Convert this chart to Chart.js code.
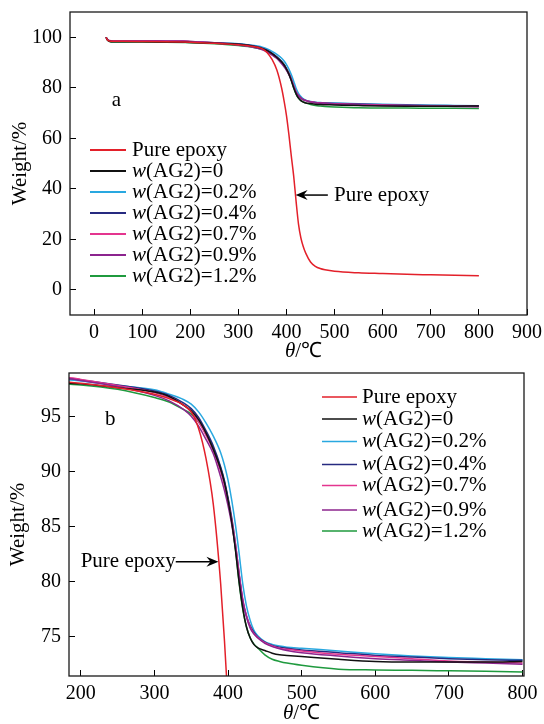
<!DOCTYPE html>
<html><head><meta charset="utf-8">
<style>
html,body{margin:0;padding:0;background:#fff;}
.box{position:absolute;left:0;width:544px;height:362px;}
#wa{top:0;} #wb{top:362px;}
</style>
<script src="https://cdn.jsdelivr.net/npm/chart.js@4.4.1/dist/chart.umd.min.js"></script>
</head><body>
<div class="box" id="wa"><canvas id="ca" width="544" height="362"></canvas></div>
<div class="box" id="wb"><canvas id="cb" width="544" height="362"></canvas></div>
<script>
// ---- data (temperature in °C, weight in %) ----
const temps = [25,28,32,40,60,100,150,185,200,250,300,320,340,350,360,370,380,390,395,400,405,410,415,420,425,430,435,440,450,460,470,480,500,550,600,650,700,750,800];
const pureEpoxy = [100.0,98.9,98.5,98.4,98.4,98.35,98.25,98.1,98.0,97.6,97.0,96.6,96.0,95.4,93.9,91.2,87.0,79.8,74.8,69.0,61.5,53.0,45.0,35.0,26.0,20.5,17.0,14.5,11.0,9.3,8.4,7.9,7.3,6.7,6.4,6.1,5.9,5.7,5.5];
const ag0  = [100.0,98.9,98.4,98.2,98.2,98.2,98.1,98.0,97.95,97.6,97.2,96.8,96.0,95.5,94.7,93.5,92.0,90.2,89.0,87.4,85.4,82.9,80.0,77.6,75.9,74.9,74.3,74.0,73.75,73.5,73.35,73.3,73.2,72.95,72.75,72.7,72.7,72.7,72.75];
const ag02 = [100.0,99.0,98.6,98.5,98.5,98.5,98.4,98.3,98.2,97.8,97.4,97.0,96.5,96.1,95.4,94.4,93.2,91.7,90.6,89.2,87.4,85.2,82.6,79.8,77.8,76.5,75.6,75.1,74.55,74.3,74.15,74.05,73.95,73.7,73.45,73.25,73.1,73.0,72.9];
const ag04 = [100.0,99.0,98.6,98.5,98.5,98.5,98.45,98.4,98.3,97.85,97.3,96.9,96.2,95.7,94.9,93.7,92.3,90.4,89.2,87.6,85.8,83.5,80.7,78.2,76.9,76.0,75.4,75.0,74.5,74.2,74.05,73.95,73.8,73.55,73.3,73.15,73.0,72.9,72.85];
const ag07 = [100.0,99.0,98.7,98.6,98.6,98.6,98.55,98.5,98.35,97.8,97.15,96.7,96.0,95.4,94.5,93.3,91.9,90.0,88.8,87.3,85.6,83.4,80.8,78.4,76.9,75.9,75.3,74.95,74.45,74.15,73.95,73.85,73.7,73.4,73.2,73.0,72.8,72.7,72.6];
const ag09 = [100.0,99.0,98.6,98.5,98.5,98.5,98.45,98.4,98.25,97.7,96.9,96.4,95.6,95.0,94.1,92.9,91.6,89.5,88.3,86.9,85.2,83.1,80.6,78.3,76.8,75.8,75.25,74.9,74.4,74.1,73.9,73.75,73.55,73.25,73.0,72.85,72.7,72.6,72.5];
const ag12 = [100.0,98.9,98.3,98.1,98.1,98.1,98.0,97.9,97.85,97.45,96.7,96.3,95.6,95.2,94.5,93.4,92.1,90.3,89.1,87.5,85.5,83.0,79.9,77.5,75.9,74.9,74.35,74.0,73.35,72.95,72.75,72.6,72.4,72.05,71.98,71.95,71.9,71.85,71.8];
const seriesNames = ['Pure epoxy','w(AG2)=0','w(AG2)=0.2%','w(AG2)=0.4%','w(AG2)=0.7%','w(AG2)=0.9%','w(AG2)=1.2%'];
const seriesValues = [pureEpoxy, ag0, ag02, ag04, ag07, ag09, ag12];
const xTicksA = [0,100,200,300,400,500,600,700,800,900];
const yTicksA = [0,20,40,60,80,100];
const xTicksB = [200,300,400,500,600,700,800];
const yTicksB = [75,80,85,90,95];
const annotationText = 'Pure epoxy';
const yTitleText = 'Weight/%';
const xTitleParts = [['italic ','θ'],['','/℃']];

// ---- styles ----
const FONT = '"Liberation Serif", "Times New Roman", serif';
const colors = ['#e3202a','#111111','#29a8e0','#262a80','#e4358f','#8c248e','#1f9a3e'];
const drawOrder = [0,1,5,4,3,2,6];

function richText(ctx, parts, x, y, size, align) {
  let total = 0;
  for (const [st,t] of parts) { ctx.font = st + size + 'px ' + FONT; total += ctx.measureText(t).width; }
  let cx = align === 'center' ? x - total/2 : (align === 'right' ? x - total : x);
  ctx.textAlign = 'left';
  for (const [st,t] of parts) { ctx.font = st + size + 'px ' + FONT; ctx.fillText(t, cx, y); cx += ctx.measureText(t).width; }
}
function labelParts(label) {
  return label.startsWith('w(') ? [['italic ','w'],['',label.slice(1)]] : [['',label]];
}
function arrow(ctx, x1, y1, x2, y2) {
  const dx = x2-x1, dy = y2-y1, L = Math.hypot(dx,dy), ux = dx/L, uy = dy/L;
  ctx.beginPath(); ctx.moveTo(x1,y1); ctx.lineTo(x2-ux*6,y2-uy*6); ctx.stroke();
  ctx.beginPath();
  ctx.moveTo(x2,y2);
  ctx.lineTo(x2-ux*12-uy*5, y2-uy*12+ux*5);
  ctx.lineTo(x2-ux*8, y2-uy*8);
  ctx.lineTo(x2-ux*12+uy*5, y2-uy*12-ux*5);
  ctx.closePath(); ctx.fill();
}

function makeDeco(cfg) {
  return {
    id: 'deco',
    afterDraw(chart) {
      const {ctx, chartArea:a, scales:{x, y}} = chart;
      ctx.save();
      ctx.strokeStyle = '#1a1a1a'; ctx.lineWidth = 1.3;
      ctx.strokeRect(a.left, a.top, a.right-a.left, a.bottom-a.top);
      ctx.fillStyle = '#000';
      ctx.textBaseline = 'middle';
      seriesNames.forEach((name,i) => {
        const ly = a.top + cfg.legendRows[i];
        const lx = a.left + cfg.legendX;
        ctx.strokeStyle = colors[i]; ctx.lineWidth = cfg.legendLW;
        ctx.beginPath(); ctx.moveTo(lx, ly); ctx.lineTo(lx + cfg.legendLen, ly); ctx.stroke();
        ctx.fillStyle = '#000';
        richText(ctx, labelParts(name), lx + cfg.legendLen + cfg.legendGap, ly, 21, 'left');
      });
      ctx.strokeStyle = '#000'; ctx.fillStyle = '#000'; ctx.lineWidth = 1.5;
      const tx = x.getPixelForValue(cfg.tip[0]), ty = y.getPixelForValue(cfg.tip[1]);
      const sx = x.getPixelForValue(cfg.tail), sy = ty;
      arrow(ctx, sx, sy, tx, ty);
      const textX = x.getPixelForValue(cfg.textAt);
      richText(ctx, [['',annotationText]], textX, ty, 21, cfg.textAlign);
      richText(ctx, [['',cfg.letter]], x.getPixelForValue(cfg.letterAt[0]), y.getPixelForValue(cfg.letterAt[1]), 21, 'left');
      richText(ctx, xTitleParts, (a.left+a.right)/2 + 5, a.bottom + cfg.xTitleDy, 21, 'center');
      ctx.restore();
    }
  };
}

function makeChart(id, cfg) {
  const datasets = seriesValues.map((vals,i) => ({
    label: seriesNames[i],
    data: temps.map((t,j) => ({x:t, y:vals[j]})),
    borderColor: colors[i],
    backgroundColor: colors[i],
    borderWidth: 1.5,
    pointRadius: 0,
    fill: false,
    cubicInterpolationMode: 'monotone',
    order: drawOrder[i]
  }));
  const tickFont = {family: FONT, size: 20};
  return new Chart(document.getElementById(id), {
    type: 'line',
    data: {datasets},
    options: {
      responsive: false, animation: false, devicePixelRatio: 1,
      layout: {padding: {top: cfg.padTop, right: cfg.padRight, left: 0, bottom: 0}},
      plugins: {legend: {display: false}, tooltip: {enabled: false}},
      scales: {
        x: {
          type: 'linear', min: cfg.xMin, max: cfg.xMax,
          afterBuildTicks: s => { s.ticks = cfg.xTicks.map(v => ({value: v})); },
          afterFit: s => { s.height = cfg.xH; s.paddingLeft = 0; s.paddingRight = 0; s.paddingTop = 0; s.paddingBottom = 0; },
          grid: {drawOnChartArea: false, drawTicks: true, tickLength: -6, color: '#000', lineWidth: 1},
          border: {display: false},
          ticks: {font: tickFont, color: '#000', padding: 12, autoSkip: false, maxRotation: 0, minRotation: 0}
        },
        y: {
          type: 'linear', min: cfg.yMin, max: cfg.yMax,
          afterBuildTicks: s => { s.ticks = cfg.yTicks.map(v => ({value: v})); },
          afterFit: s => { s.width = cfg.yW; s.paddingLeft = 0; s.paddingRight = 0; s.paddingTop = 0; s.paddingBottom = 0; },
          grid: {drawOnChartArea: false, drawTicks: true, tickLength: -6, color: '#000', lineWidth: 1},
          border: {display: false},
          ticks: {font: tickFont, color: '#000', padding: 14, autoSkip: false},
          title: {display: true, text: yTitleText, color: '#000', font: {family: FONT, size: 21}, padding: {top: cfg.yTitlePad, bottom: 0}}
        }
      }
    },
    plugins: [makeDeco(cfg)]
  });
}

makeChart('ca', {
  xMin: -50, xMax: 900, yMin: -10, yMax: 110, xTicks: xTicksA, yTicks: yTicksA,
  padTop: 12, padRight: 17, xH: 47, yW: 70, yTitlePad: 8,
  legendX: 20, legendLen: 36, legendGap: 6, legendLW: 2,
  legendRows: [138,159,180,201,222,243,264],
  tip: [419, 37.5], tail: 486, textAt: 499, textAlign: 'left',
  letter: 'a', letterAt: [37, 75], xTitleDy: 36
});
makeChart('cb', {
  xMin: 184, xMax: 802, yMin: 71.43, yMax: 98.93, xTicks: xTicksB, yTicks: yTicksB,
  padTop: 11, padRight: 20, xH: 48, yW: 69, yTitlePad: 6,
  legendX: 253, legendLen: 35, legendGap: 5, legendLW: 1.5,
  legendRows: [24,46,68.5,91.5,112.5,137,158],
  tip: [387, 81.8], tail: 329, textAt: 329, textAlign: 'right',
  letter: 'b', letterAt: [233, 94.7], xTitleDy: 37
});
</script>
</body></html>
